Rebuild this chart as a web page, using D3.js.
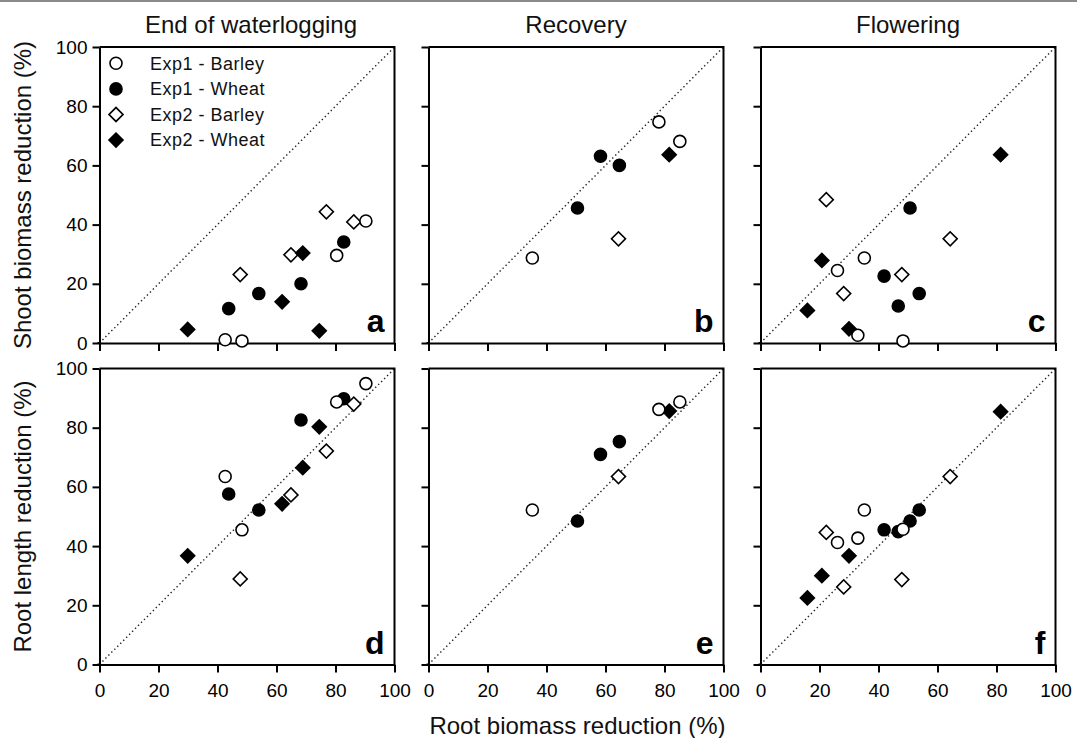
<!DOCTYPE html>
<html>
<head>
<meta charset="utf-8">
<script src="https://cdn.jsdelivr.net/npm/d3@7"></script>
<style>
  html, body { margin: 0; padding: 0; background: #fff; }
  svg { display: block; font-family: "Liberation Sans", Arial, sans-serif; }
</style>
</head>
<body>
<svg id="chart" width="1077" height="738"></svg>
<script>
// ---------- DATA ----------
const stages = ["End of waterlogging", "Recovery", "Flowering"];
const seriesNames = ["Exp1 - Barley", "Exp1 - Wheat", "Exp2 - Barley", "Exp2 - Wheat"];
const panelLetters = [["a", "b", "c"], ["d", "e", "f"]];
const rowTitles = ["Shoot biomass reduction (%)", "Root length reduction (%)"];
const xTitle = "Root biomass reduction (%)";
const tickValues = [0, 20, 40, 60, 80, 100];

// End of waterlogging
const wl_exp1Barley_root = [42.6, 48.3, 80.4, 90.3];
const wl_exp1Barley_shoot = [1.1, 0.7, 29.6, 41.2];
const wl_exp1Barley_len = [63.5, 45.5, 88.7, 94.9];
const wl_exp1Wheat_root = [43.8, 54.0, 68.3, 82.8];
const wl_exp1Wheat_shoot = [11.6, 16.7, 20.0, 34.1];
const wl_exp1Wheat_len = [57.6, 52.2, 82.6, 89.8];
const wl_exp2Barley_root = [47.7, 64.9, 76.9, 86.2];
const wl_exp2Barley_shoot = [23.1, 29.8, 44.3, 40.9];
const wl_exp2Barley_len = [28.9, 57.3, 72.1, 88.0];
const wl_exp2Wheat_root = [29.9, 61.9, 68.9, 74.5];
const wl_exp2Wheat_shoot = [4.6, 13.9, 30.4, 4.1];
const wl_exp2Wheat_len = [36.7, 54.3, 66.5, 80.3];

// Recovery
const rc_exp1Barley_root = [35.2, 78.1, 85.2];
const rc_exp1Barley_shoot = [28.7, 74.7, 68.1];
const rc_exp1Barley_len = [52.2, 86.2, 88.7];
const rc_exp1Wheat_root = [50.5, 58.3, 64.7];
const rc_exp1Wheat_shoot = [45.6, 63.1, 60.0];
const rc_exp1Wheat_len = [48.5, 71.0, 75.3];
const rc_exp2Barley_root = [64.4];
const rc_exp2Barley_shoot = [35.2];
const rc_exp2Barley_len = [63.5];
const rc_exp2Wheat_root = [81.6];
const rc_exp2Wheat_shoot = [63.6];
const rc_exp2Wheat_len = [85.6];

// Flowering
const fl_exp1Barley_root = [26.1, 35.2, 33.0, 48.3];
const fl_exp1Barley_shoot = [24.5, 28.7, 2.6, 0.7];
const fl_exp1Barley_len = [41.2, 52.2, 42.7, 45.7];
const fl_exp1Wheat_root = [50.7, 41.9, 46.7, 53.8];
const fl_exp1Wheat_shoot = [45.6, 22.6, 12.5, 16.7];
const fl_exp1Wheat_len = [48.5, 45.5, 44.9, 52.2];
const fl_exp2Barley_root = [22.3, 28.2, 47.9, 64.3];
const fl_exp2Barley_shoot = [48.4, 16.7, 23.1, 35.2];
const fl_exp2Barley_len = [44.6, 26.2, 28.7, 63.5];
const fl_exp2Wheat_root = [15.9, 20.8, 30.0, 81.4];
const fl_exp2Wheat_shoot = [11.0, 27.9, 4.8, 63.6];
const fl_exp2Wheat_len = [22.5, 30.0, 36.7, 85.4];

// assemble [stage][series] = {root, shoot, len}
const table = [
  [
    {root: wl_exp1Barley_root, shoot: wl_exp1Barley_shoot, len: wl_exp1Barley_len},
    {root: wl_exp1Wheat_root, shoot: wl_exp1Wheat_shoot, len: wl_exp1Wheat_len},
    {root: wl_exp2Barley_root, shoot: wl_exp2Barley_shoot, len: wl_exp2Barley_len},
    {root: wl_exp2Wheat_root, shoot: wl_exp2Wheat_shoot, len: wl_exp2Wheat_len}
  ],
  [
    {root: rc_exp1Barley_root, shoot: rc_exp1Barley_shoot, len: rc_exp1Barley_len},
    {root: rc_exp1Wheat_root, shoot: rc_exp1Wheat_shoot, len: rc_exp1Wheat_len},
    {root: rc_exp2Barley_root, shoot: rc_exp2Barley_shoot, len: rc_exp2Barley_len},
    {root: rc_exp2Wheat_root, shoot: rc_exp2Wheat_shoot, len: rc_exp2Wheat_len}
  ],
  [
    {root: fl_exp1Barley_root, shoot: fl_exp1Barley_shoot, len: fl_exp1Barley_len},
    {root: fl_exp1Wheat_root, shoot: fl_exp1Wheat_shoot, len: fl_exp1Wheat_len},
    {root: fl_exp2Barley_root, shoot: fl_exp2Barley_shoot, len: fl_exp2Barley_len},
    {root: fl_exp2Wheat_root, shoot: fl_exp2Wheat_shoot, len: fl_exp2Wheat_len}
  ]
];

// ---------- STYLE / LAYOUT ----------
const colLeft = [99.5, 428.5, 760.5];
const rowTop = [47, 368.5];
const pw = 295, ph = 296;
const markerStyle = [
  {shape: "circle", fill: "#fff"},
  {shape: "circle", fill: "#000"},
  {shape: "diamond", fill: "#fff"},
  {shape: "diamond", fill: "#000"}
];
const drawOrder = [1, 2, 3, 0];

const svg = d3.select("#chart");
svg.append("rect").attr("x", 0).attr("y", 0).attr("width", 1077).attr("height", 2).attr("fill", "#8a8a8a");

const circlePath = d3.symbol().type(d3.symbolCircle).size(Math.PI * 6 * 6)();
const diamondPath = d3.symbol().type(d3.symbolSquare).size(98)();

function drawMarker(g, x, y, si) {
  const st = markerStyle[si];
  const p = g.append("path")
    .attr("d", st.shape === "circle" ? circlePath : diamondPath)
    .attr("fill", st.fill)
    .attr("stroke", "#000")
    .attr("stroke-width", 1.6);
  if (st.shape === "circle") p.attr("transform", `translate(${x},${y})`);
  else p.attr("transform", `translate(${x},${y}) rotate(45)`);
}

for (let r = 0; r < 2; r++) {
  for (let c = 0; c < 3; c++) {
    const x = d3.scaleLinear().domain([0, 100]).range([colLeft[c], colLeft[c] + pw]);
    const y = d3.scaleLinear().domain([0, 100]).range([rowTop[r] + ph, rowTop[r]]);
    const g = svg.append("g");

    // diagonal 1:1 line
    g.append("line")
      .attr("x1", x(0)).attr("y1", y(0)).attr("x2", x(100)).attr("y2", y(100))
      .attr("stroke", "#222").attr("stroke-width", 1.4)
      .attr("stroke-dasharray", "1.4 2.8");

    // frame (top and right)
    g.append("path")
      .attr("d", `M${x(0)},${y(100)}H${x(100)}V${y(0)}`)
      .attr("fill", "none").attr("stroke", "#000").attr("stroke-width", 2);

    // axes
    const xAxis = d3.axisBottom(x).tickValues(tickValues).tickSize(8).tickSizeOuter(0).tickPadding(11);
    if (r === 0) xAxis.tickFormat("");
    const gx = g.append("g").attr("transform", `translate(0,${y(0)})`).call(xAxis);
    const yAxis = d3.axisLeft(y).tickValues(tickValues).tickSize(7).tickSizeOuter(0).tickPadding(5);
    if (c !== 0) yAxis.tickFormat("");
    const gy = g.append("g").attr("transform", `translate(${x(0)},0)`).call(yAxis);
    [gx, gy].forEach(a => {
      a.select(".domain").attr("stroke-width", 2);
      a.selectAll(".tick line").attr("stroke-width", 2);
      a.selectAll(".tick text").attr("font-size", 19).attr("fill", "#000")
        .attr("font-family", "'Liberation Sans', Arial, sans-serif");
    });
    // extend x domain slightly left so the frame corner joins
    g.append("line").attr("x1", x(0) - 2).attr("x2", x(0)).attr("y1", y(0)).attr("y2", y(0))
      .attr("stroke", "#000").attr("stroke-width", 2);

    // points
    const stage = table[c];
    drawOrder.forEach(si => {
      const s = stage[si];
      const yv = r === 0 ? s.shoot : s.len;
      s.root.forEach((rv, i) => drawMarker(g, x(rv), y(yv[i]), si));
    });

    // panel letter
    g.append("text")
      .attr("x", x(100) - 10).attr("y", y(0) - 11)
      .attr("text-anchor", "end").attr("font-size", 32).attr("font-weight", "bold")
      .text(panelLetters[r][c]);

    // column titles
    if (r === 0) {
      svg.append("text")
        .attr("x", (x(0) + x(100)) / 2 + (c === 0 ? 4 : 0)).attr("y", 33)
        .attr("text-anchor", "middle").attr("font-size", 24).attr("fill", "#111")
        .text(stages[c]);
    }
  }
  // row y titles
  svg.append("text")
    .attr("transform", `translate(31,${rowTop[r] + ph / 2}) rotate(-90)`)
    .attr("text-anchor", "middle").attr("font-size", 24).attr("fill", "#111")
    .text(rowTitles[r]);
}

// x title
svg.append("text")
  .attr("x", 577.5).attr("y", 734)
  .attr("text-anchor", "middle").attr("font-size", 24).attr("fill", "#111")
  .text(xTitle);

// legend (panel a)
const leg = svg.append("g");
seriesNames.forEach((name, i) => {
  const ly = 63.3 + i * 25.6;
  drawMarker(leg, 116, ly, i);
  leg.append("text").attr("x", 150).attr("y", ly).attr("dy", "0.35em")
    .attr("font-size", 18).attr("letter-spacing", 0.5).attr("fill", "#111")
    .text(name);
});
</script>
</body>
</html>
